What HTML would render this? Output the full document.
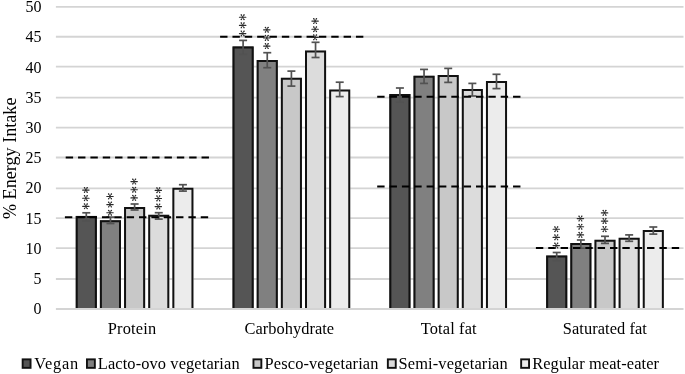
<!DOCTYPE html><html><head><meta charset="utf-8"><style>html,body{margin:0;padding:0;background:#fff;width:685px;height:374px;overflow:hidden}svg{display:block;will-change:transform}text{font-family:"Liberation Serif",serif;fill:#000}</style></head><body>
<svg width="685" height="374" viewBox="0 0 685 374">
<line x1="55.9" x2="683.5" y1="6.95" y2="6.95" stroke="#d4d4d4" stroke-width="1.8"/>
<line x1="55.9" x2="683.5" y1="36.76" y2="36.76" stroke="#d4d4d4" stroke-width="1.8"/>
<line x1="55.9" x2="683.5" y1="66.66" y2="66.66" stroke="#d4d4d4" stroke-width="1.8"/>
<line x1="55.9" x2="683.5" y1="97.57" y2="97.57" stroke="#d4d4d4" stroke-width="1.8"/>
<line x1="55.9" x2="683.5" y1="127.57" y2="127.57" stroke="#d4d4d4" stroke-width="1.8"/>
<line x1="55.9" x2="683.5" y1="157.5" y2="157.5" stroke="#d4d4d4" stroke-width="1.8"/>
<line x1="55.9" x2="683.5" y1="188.3" y2="188.3" stroke="#d4d4d4" stroke-width="1.8"/>
<line x1="55.9" x2="683.5" y1="218.2" y2="218.2" stroke="#d4d4d4" stroke-width="1.8"/>
<line x1="55.9" x2="683.5" y1="248.1" y2="248.1" stroke="#d4d4d4" stroke-width="1.8"/>
<line x1="55.9" x2="683.5" y1="279.0" y2="279.0" stroke="#d4d4d4" stroke-width="1.8"/>
<line x1="55.9" x2="683.5" y1="309.0" y2="309.0" stroke="#d4d4d4" stroke-width="1.8"/>
<text x="41.5" y="12.20" font-size="16" text-anchor="end">50</text>
<text x="41.5" y="42.40" font-size="16" text-anchor="end">45</text>
<text x="41.5" y="72.60" font-size="16" text-anchor="end">40</text>
<text x="41.5" y="102.80" font-size="16" text-anchor="end">35</text>
<text x="41.5" y="133.00" font-size="16" text-anchor="end">30</text>
<text x="41.5" y="163.20" font-size="16" text-anchor="end">25</text>
<text x="41.5" y="193.40" font-size="16" text-anchor="end">20</text>
<text x="41.5" y="223.60" font-size="16" text-anchor="end">15</text>
<text x="41.5" y="253.80" font-size="16" text-anchor="end">10</text>
<text x="41.5" y="284.00" font-size="16" text-anchor="end">5</text>
<text x="41.5" y="314.20" font-size="16" text-anchor="end">0</text>
<rect x="75.75" y="215.90" width="21.10" height="92.10" fill="#555555"/>
<path d="M76.75,308.00 V216.90 H95.85 V308.00" fill="none" stroke="#111" stroke-width="2.0"/>
<rect x="99.90" y="220.20" width="21.10" height="87.80" fill="#808080"/>
<path d="M100.90,308.00 V221.20 H120.00 V308.00" fill="none" stroke="#111" stroke-width="2.0"/>
<rect x="124.05" y="207.00" width="21.10" height="101.00" fill="#c8c8c8"/>
<path d="M125.05,308.00 V208.00 H144.15 V308.00" fill="none" stroke="#111" stroke-width="2.0"/>
<rect x="148.20" y="214.80" width="21.10" height="93.20" fill="#dcdcdc"/>
<path d="M149.20,308.00 V215.80 H168.30 V308.00" fill="none" stroke="#111" stroke-width="2.0"/>
<rect x="172.35" y="187.80" width="21.10" height="120.20" fill="#ececec"/>
<path d="M173.35,308.00 V188.80 H192.45 V308.00" fill="none" stroke="#111" stroke-width="2.0"/>
<rect x="232.55" y="46.40" width="21.10" height="261.60" fill="#555555"/>
<path d="M233.55,308.00 V47.40 H252.65 V308.00" fill="none" stroke="#111" stroke-width="2.0"/>
<rect x="256.70" y="60.00" width="21.10" height="248.00" fill="#808080"/>
<path d="M257.70,308.00 V61.00 H276.80 V308.00" fill="none" stroke="#111" stroke-width="2.0"/>
<rect x="280.85" y="77.80" width="21.10" height="230.20" fill="#c8c8c8"/>
<path d="M281.85,308.00 V78.80 H300.95 V308.00" fill="none" stroke="#111" stroke-width="2.0"/>
<rect x="305.00" y="50.40" width="21.10" height="257.60" fill="#dcdcdc"/>
<path d="M306.00,308.00 V51.40 H325.10 V308.00" fill="none" stroke="#111" stroke-width="2.0"/>
<rect x="329.15" y="89.40" width="21.10" height="218.60" fill="#ececec"/>
<path d="M330.15,308.00 V90.40 H349.25 V308.00" fill="none" stroke="#111" stroke-width="2.0"/>
<rect x="389.35" y="94.10" width="21.10" height="213.90" fill="#555555"/>
<path d="M390.35,308.00 V95.10 H409.45 V308.00" fill="none" stroke="#111" stroke-width="2.0"/>
<rect x="413.50" y="75.80" width="21.10" height="232.20" fill="#808080"/>
<path d="M414.50,308.00 V76.80 H433.60 V308.00" fill="none" stroke="#111" stroke-width="2.0"/>
<rect x="437.65" y="75.00" width="21.10" height="233.00" fill="#c8c8c8"/>
<path d="M438.65,308.00 V76.00 H457.75 V308.00" fill="none" stroke="#111" stroke-width="2.0"/>
<rect x="461.80" y="89.00" width="21.10" height="219.00" fill="#dcdcdc"/>
<path d="M462.80,308.00 V90.00 H481.90 V308.00" fill="none" stroke="#111" stroke-width="2.0"/>
<rect x="485.95" y="81.10" width="21.10" height="226.90" fill="#ececec"/>
<path d="M486.95,308.00 V82.10 H506.05 V308.00" fill="none" stroke="#111" stroke-width="2.0"/>
<rect x="546.15" y="255.60" width="21.10" height="52.40" fill="#555555"/>
<path d="M547.15,308.00 V256.60 H566.25 V308.00" fill="none" stroke="#111" stroke-width="2.0"/>
<rect x="570.30" y="243.10" width="21.10" height="64.90" fill="#808080"/>
<path d="M571.30,308.00 V244.10 H590.40 V308.00" fill="none" stroke="#111" stroke-width="2.0"/>
<rect x="594.45" y="239.80" width="21.10" height="68.20" fill="#c8c8c8"/>
<path d="M595.45,308.00 V240.80 H614.55 V308.00" fill="none" stroke="#111" stroke-width="2.0"/>
<rect x="618.60" y="237.80" width="21.10" height="70.20" fill="#dcdcdc"/>
<path d="M619.60,308.00 V238.80 H638.70 V308.00" fill="none" stroke="#111" stroke-width="2.0"/>
<rect x="642.75" y="230.00" width="21.10" height="78.00" fill="#ececec"/>
<path d="M643.75,308.00 V231.00 H662.85 V308.00" fill="none" stroke="#111" stroke-width="2.0"/>
<g stroke="#525252" stroke-width="1.7"><line x1="86.30" x2="86.30" y1="212.80" y2="221.00"/><line x1="82.30" x2="90.30" y1="212.80" y2="212.80"/><line x1="82.30" x2="90.30" y1="221.00" y2="221.00"/></g>
<g stroke="#525252" stroke-width="1.7"><line x1="110.45" x2="110.45" y1="217.10" y2="223.50"/><line x1="106.45" x2="114.45" y1="217.10" y2="217.10"/><line x1="106.45" x2="114.45" y1="223.50" y2="223.50"/></g>
<g stroke="#525252" stroke-width="1.7"><line x1="134.60" x2="134.60" y1="204.00" y2="210.00"/><line x1="130.60" x2="138.60" y1="204.00" y2="204.00"/><line x1="130.60" x2="138.60" y1="210.00" y2="210.00"/></g>
<g stroke="#525252" stroke-width="1.7"><line x1="158.75" x2="158.75" y1="212.70" y2="219.10"/><line x1="154.75" x2="162.75" y1="212.70" y2="212.70"/><line x1="154.75" x2="162.75" y1="219.10" y2="219.10"/></g>
<g stroke="#525252" stroke-width="1.7"><line x1="182.90" x2="182.90" y1="184.70" y2="191.10"/><line x1="178.90" x2="186.90" y1="184.70" y2="184.70"/><line x1="178.90" x2="186.90" y1="191.10" y2="191.10"/></g>
<g stroke="#525252" stroke-width="1.7"><line x1="243.10" x2="243.10" y1="40.40" y2="54.40"/><line x1="239.10" x2="247.10" y1="40.40" y2="40.40"/><line x1="239.10" x2="247.10" y1="54.40" y2="54.40"/></g>
<g stroke="#525252" stroke-width="1.7"><line x1="267.25" x2="267.25" y1="52.70" y2="67.70"/><line x1="263.25" x2="271.25" y1="52.70" y2="52.70"/><line x1="263.25" x2="271.25" y1="67.70" y2="67.70"/></g>
<g stroke="#525252" stroke-width="1.7"><line x1="291.40" x2="291.40" y1="71.10" y2="86.10"/><line x1="287.40" x2="295.40" y1="71.10" y2="71.10"/><line x1="287.40" x2="295.40" y1="86.10" y2="86.10"/></g>
<g stroke="#525252" stroke-width="1.7"><line x1="315.55" x2="315.55" y1="42.30" y2="57.50"/><line x1="311.55" x2="319.55" y1="42.30" y2="42.30"/><line x1="311.55" x2="319.55" y1="57.50" y2="57.50"/></g>
<g stroke="#525252" stroke-width="1.7"><line x1="339.70" x2="339.70" y1="82.20" y2="96.60"/><line x1="335.70" x2="343.70" y1="82.20" y2="82.20"/><line x1="335.70" x2="343.70" y1="96.60" y2="96.60"/></g>
<g stroke="#525252" stroke-width="1.7"><line x1="399.90" x2="399.90" y1="88.00" y2="102.20"/><line x1="395.90" x2="403.90" y1="88.00" y2="88.00"/><line x1="395.90" x2="403.90" y1="102.20" y2="102.20"/></g>
<g stroke="#525252" stroke-width="1.7"><line x1="424.05" x2="424.05" y1="69.40" y2="83.40"/><line x1="420.05" x2="428.05" y1="69.40" y2="69.40"/><line x1="420.05" x2="428.05" y1="83.40" y2="83.40"/></g>
<g stroke="#525252" stroke-width="1.7"><line x1="448.20" x2="448.20" y1="68.40" y2="82.40"/><line x1="444.20" x2="452.20" y1="68.40" y2="68.40"/><line x1="444.20" x2="452.20" y1="82.40" y2="82.40"/></g>
<g stroke="#525252" stroke-width="1.7"><line x1="472.35" x2="472.35" y1="83.40" y2="96.00"/><line x1="468.35" x2="476.35" y1="83.40" y2="83.40"/><line x1="468.35" x2="476.35" y1="96.00" y2="96.00"/></g>
<g stroke="#525252" stroke-width="1.7"><line x1="496.50" x2="496.50" y1="74.30" y2="88.60"/><line x1="492.50" x2="500.50" y1="74.30" y2="74.30"/><line x1="492.50" x2="500.50" y1="88.60" y2="88.60"/></g>
<g stroke="#525252" stroke-width="1.7"><line x1="556.70" x2="556.70" y1="252.50" y2="260.70"/><line x1="552.70" x2="560.70" y1="252.50" y2="252.50"/><line x1="552.70" x2="560.70" y1="260.70" y2="260.70"/></g>
<g stroke="#525252" stroke-width="1.7"><line x1="580.85" x2="580.85" y1="240.00" y2="248.20"/><line x1="576.85" x2="584.85" y1="240.00" y2="240.00"/><line x1="576.85" x2="584.85" y1="248.20" y2="248.20"/></g>
<g stroke="#525252" stroke-width="1.7"><line x1="605.00" x2="605.00" y1="236.30" y2="243.40"/><line x1="601.00" x2="609.00" y1="236.30" y2="236.30"/><line x1="601.00" x2="609.00" y1="243.40" y2="243.40"/></g>
<g stroke="#525252" stroke-width="1.7"><line x1="629.15" x2="629.15" y1="234.90" y2="241.30"/><line x1="625.15" x2="633.15" y1="234.90" y2="234.90"/><line x1="625.15" x2="633.15" y1="241.30" y2="241.30"/></g>
<g stroke="#525252" stroke-width="1.7"><line x1="653.30" x2="653.30" y1="227.00" y2="234.10"/><line x1="649.30" x2="657.30" y1="227.00" y2="227.00"/><line x1="649.30" x2="657.30" y1="234.10" y2="234.10"/></g>
<line x1="65.7" x2="209.5" y1="157.5" y2="157.5" stroke="#000" stroke-width="2" stroke-dasharray="7.4 4.95"/>
<line x1="64.9" x2="209.5" y1="217.3" y2="217.3" stroke="#000" stroke-width="2" stroke-dasharray="7.4 4.95"/>
<line x1="220.1" x2="364.0" y1="36.7" y2="36.7" stroke="#000" stroke-width="2" stroke-dasharray="7.4 4.95"/>
<line x1="377.2" x2="521.0" y1="96.7" y2="96.7" stroke="#000" stroke-width="2" stroke-dasharray="7.4 4.95"/>
<line x1="377.2" x2="521.0" y1="186.5" y2="186.5" stroke="#000" stroke-width="2" stroke-dasharray="7.4 4.95"/>
<line x1="535.9" x2="680.0" y1="248.1" y2="248.1" stroke="#000" stroke-width="2" stroke-dasharray="7.4 4.95"/>
<g transform="translate(85.85,190.05)" stroke="#2a2a2a" stroke-linecap="round" fill="none"><path d="M-3.2,0H3.2" stroke-width="1.15"/><path d="M0,0L-1.25,-2.4M0,0L1.25,-2.4M0,0L-1.25,2.3M0,0L1.25,2.3" stroke-width="0.8"/><circle cx="-1.35" cy="-2.35" r="0.75" fill="#2a2a2a" stroke="none"/><circle cx="1.35" cy="-2.35" r="0.75" fill="#2a2a2a" stroke="none"/><circle cx="-1.35" cy="2.25" r="0.7" fill="#2a2a2a" stroke="none"/><circle cx="1.35" cy="2.25" r="0.7" fill="#2a2a2a" stroke="none"/></g>
<g transform="translate(85.85,198.20)" stroke="#2a2a2a" stroke-linecap="round" fill="none"><path d="M-3.2,0H3.2" stroke-width="1.15"/><path d="M0,0L-1.25,-2.4M0,0L1.25,-2.4M0,0L-1.25,2.3M0,0L1.25,2.3" stroke-width="0.8"/><circle cx="-1.35" cy="-2.35" r="0.75" fill="#2a2a2a" stroke="none"/><circle cx="1.35" cy="-2.35" r="0.75" fill="#2a2a2a" stroke="none"/><circle cx="-1.35" cy="2.25" r="0.7" fill="#2a2a2a" stroke="none"/><circle cx="1.35" cy="2.25" r="0.7" fill="#2a2a2a" stroke="none"/></g>
<g transform="translate(85.85,206.35)" stroke="#2a2a2a" stroke-linecap="round" fill="none"><path d="M-3.2,0H3.2" stroke-width="1.15"/><path d="M0,0L-1.25,-2.4M0,0L1.25,-2.4M0,0L-1.25,2.3M0,0L1.25,2.3" stroke-width="0.8"/><circle cx="-1.35" cy="-2.35" r="0.75" fill="#2a2a2a" stroke="none"/><circle cx="1.35" cy="-2.35" r="0.75" fill="#2a2a2a" stroke="none"/><circle cx="-1.35" cy="2.25" r="0.7" fill="#2a2a2a" stroke="none"/><circle cx="1.35" cy="2.25" r="0.7" fill="#2a2a2a" stroke="none"/></g>
<g transform="translate(110.00,196.45)" stroke="#2a2a2a" stroke-linecap="round" fill="none"><path d="M-3.2,0H3.2" stroke-width="1.15"/><path d="M0,0L-1.25,-2.4M0,0L1.25,-2.4M0,0L-1.25,2.3M0,0L1.25,2.3" stroke-width="0.8"/><circle cx="-1.35" cy="-2.35" r="0.75" fill="#2a2a2a" stroke="none"/><circle cx="1.35" cy="-2.35" r="0.75" fill="#2a2a2a" stroke="none"/><circle cx="-1.35" cy="2.25" r="0.7" fill="#2a2a2a" stroke="none"/><circle cx="1.35" cy="2.25" r="0.7" fill="#2a2a2a" stroke="none"/></g>
<g transform="translate(110.00,204.60)" stroke="#2a2a2a" stroke-linecap="round" fill="none"><path d="M-3.2,0H3.2" stroke-width="1.15"/><path d="M0,0L-1.25,-2.4M0,0L1.25,-2.4M0,0L-1.25,2.3M0,0L1.25,2.3" stroke-width="0.8"/><circle cx="-1.35" cy="-2.35" r="0.75" fill="#2a2a2a" stroke="none"/><circle cx="1.35" cy="-2.35" r="0.75" fill="#2a2a2a" stroke="none"/><circle cx="-1.35" cy="2.25" r="0.7" fill="#2a2a2a" stroke="none"/><circle cx="1.35" cy="2.25" r="0.7" fill="#2a2a2a" stroke="none"/></g>
<g transform="translate(110.00,212.75)" stroke="#2a2a2a" stroke-linecap="round" fill="none"><path d="M-3.2,0H3.2" stroke-width="1.15"/><path d="M0,0L-1.25,-2.4M0,0L1.25,-2.4M0,0L-1.25,2.3M0,0L1.25,2.3" stroke-width="0.8"/><circle cx="-1.35" cy="-2.35" r="0.75" fill="#2a2a2a" stroke="none"/><circle cx="1.35" cy="-2.35" r="0.75" fill="#2a2a2a" stroke="none"/><circle cx="-1.35" cy="2.25" r="0.7" fill="#2a2a2a" stroke="none"/><circle cx="1.35" cy="2.25" r="0.7" fill="#2a2a2a" stroke="none"/></g>
<g transform="translate(134.15,181.60)" stroke="#2a2a2a" stroke-linecap="round" fill="none"><path d="M-3.2,0H3.2" stroke-width="1.15"/><path d="M0,0L-1.25,-2.4M0,0L1.25,-2.4M0,0L-1.25,2.3M0,0L1.25,2.3" stroke-width="0.8"/><circle cx="-1.35" cy="-2.35" r="0.75" fill="#2a2a2a" stroke="none"/><circle cx="1.35" cy="-2.35" r="0.75" fill="#2a2a2a" stroke="none"/><circle cx="-1.35" cy="2.25" r="0.7" fill="#2a2a2a" stroke="none"/><circle cx="1.35" cy="2.25" r="0.7" fill="#2a2a2a" stroke="none"/></g>
<g transform="translate(134.15,189.75)" stroke="#2a2a2a" stroke-linecap="round" fill="none"><path d="M-3.2,0H3.2" stroke-width="1.15"/><path d="M0,0L-1.25,-2.4M0,0L1.25,-2.4M0,0L-1.25,2.3M0,0L1.25,2.3" stroke-width="0.8"/><circle cx="-1.35" cy="-2.35" r="0.75" fill="#2a2a2a" stroke="none"/><circle cx="1.35" cy="-2.35" r="0.75" fill="#2a2a2a" stroke="none"/><circle cx="-1.35" cy="2.25" r="0.7" fill="#2a2a2a" stroke="none"/><circle cx="1.35" cy="2.25" r="0.7" fill="#2a2a2a" stroke="none"/></g>
<g transform="translate(134.15,197.90)" stroke="#2a2a2a" stroke-linecap="round" fill="none"><path d="M-3.2,0H3.2" stroke-width="1.15"/><path d="M0,0L-1.25,-2.4M0,0L1.25,-2.4M0,0L-1.25,2.3M0,0L1.25,2.3" stroke-width="0.8"/><circle cx="-1.35" cy="-2.35" r="0.75" fill="#2a2a2a" stroke="none"/><circle cx="1.35" cy="-2.35" r="0.75" fill="#2a2a2a" stroke="none"/><circle cx="-1.35" cy="2.25" r="0.7" fill="#2a2a2a" stroke="none"/><circle cx="1.35" cy="2.25" r="0.7" fill="#2a2a2a" stroke="none"/></g>
<g transform="translate(158.30,190.30)" stroke="#2a2a2a" stroke-linecap="round" fill="none"><path d="M-3.2,0H3.2" stroke-width="1.15"/><path d="M0,0L-1.25,-2.4M0,0L1.25,-2.4M0,0L-1.25,2.3M0,0L1.25,2.3" stroke-width="0.8"/><circle cx="-1.35" cy="-2.35" r="0.75" fill="#2a2a2a" stroke="none"/><circle cx="1.35" cy="-2.35" r="0.75" fill="#2a2a2a" stroke="none"/><circle cx="-1.35" cy="2.25" r="0.7" fill="#2a2a2a" stroke="none"/><circle cx="1.35" cy="2.25" r="0.7" fill="#2a2a2a" stroke="none"/></g>
<g transform="translate(158.30,198.45)" stroke="#2a2a2a" stroke-linecap="round" fill="none"><path d="M-3.2,0H3.2" stroke-width="1.15"/><path d="M0,0L-1.25,-2.4M0,0L1.25,-2.4M0,0L-1.25,2.3M0,0L1.25,2.3" stroke-width="0.8"/><circle cx="-1.35" cy="-2.35" r="0.75" fill="#2a2a2a" stroke="none"/><circle cx="1.35" cy="-2.35" r="0.75" fill="#2a2a2a" stroke="none"/><circle cx="-1.35" cy="2.25" r="0.7" fill="#2a2a2a" stroke="none"/><circle cx="1.35" cy="2.25" r="0.7" fill="#2a2a2a" stroke="none"/></g>
<g transform="translate(158.30,206.60)" stroke="#2a2a2a" stroke-linecap="round" fill="none"><path d="M-3.2,0H3.2" stroke-width="1.15"/><path d="M0,0L-1.25,-2.4M0,0L1.25,-2.4M0,0L-1.25,2.3M0,0L1.25,2.3" stroke-width="0.8"/><circle cx="-1.35" cy="-2.35" r="0.75" fill="#2a2a2a" stroke="none"/><circle cx="1.35" cy="-2.35" r="0.75" fill="#2a2a2a" stroke="none"/><circle cx="-1.35" cy="2.25" r="0.7" fill="#2a2a2a" stroke="none"/><circle cx="1.35" cy="2.25" r="0.7" fill="#2a2a2a" stroke="none"/></g>
<g transform="translate(242.65,17.25)" stroke="#2a2a2a" stroke-linecap="round" fill="none"><path d="M-3.2,0H3.2" stroke-width="1.15"/><path d="M0,0L-1.25,-2.4M0,0L1.25,-2.4M0,0L-1.25,2.3M0,0L1.25,2.3" stroke-width="0.8"/><circle cx="-1.35" cy="-2.35" r="0.75" fill="#2a2a2a" stroke="none"/><circle cx="1.35" cy="-2.35" r="0.75" fill="#2a2a2a" stroke="none"/><circle cx="-1.35" cy="2.25" r="0.7" fill="#2a2a2a" stroke="none"/><circle cx="1.35" cy="2.25" r="0.7" fill="#2a2a2a" stroke="none"/></g>
<g transform="translate(242.65,25.40)" stroke="#2a2a2a" stroke-linecap="round" fill="none"><path d="M-3.2,0H3.2" stroke-width="1.15"/><path d="M0,0L-1.25,-2.4M0,0L1.25,-2.4M0,0L-1.25,2.3M0,0L1.25,2.3" stroke-width="0.8"/><circle cx="-1.35" cy="-2.35" r="0.75" fill="#2a2a2a" stroke="none"/><circle cx="1.35" cy="-2.35" r="0.75" fill="#2a2a2a" stroke="none"/><circle cx="-1.35" cy="2.25" r="0.7" fill="#2a2a2a" stroke="none"/><circle cx="1.35" cy="2.25" r="0.7" fill="#2a2a2a" stroke="none"/></g>
<g transform="translate(242.65,33.55)" stroke="#2a2a2a" stroke-linecap="round" fill="none"><path d="M-3.2,0H3.2" stroke-width="1.15"/><path d="M0,0L-1.25,-2.4M0,0L1.25,-2.4M0,0L-1.25,2.3M0,0L1.25,2.3" stroke-width="0.8"/><circle cx="-1.35" cy="-2.35" r="0.75" fill="#2a2a2a" stroke="none"/><circle cx="1.35" cy="-2.35" r="0.75" fill="#2a2a2a" stroke="none"/><circle cx="-1.35" cy="2.25" r="0.7" fill="#2a2a2a" stroke="none"/><circle cx="1.35" cy="2.25" r="0.7" fill="#2a2a2a" stroke="none"/></g>
<g transform="translate(266.80,29.80)" stroke="#2a2a2a" stroke-linecap="round" fill="none"><path d="M-3.2,0H3.2" stroke-width="1.15"/><path d="M0,0L-1.25,-2.4M0,0L1.25,-2.4M0,0L-1.25,2.3M0,0L1.25,2.3" stroke-width="0.8"/><circle cx="-1.35" cy="-2.35" r="0.75" fill="#2a2a2a" stroke="none"/><circle cx="1.35" cy="-2.35" r="0.75" fill="#2a2a2a" stroke="none"/><circle cx="-1.35" cy="2.25" r="0.7" fill="#2a2a2a" stroke="none"/><circle cx="1.35" cy="2.25" r="0.7" fill="#2a2a2a" stroke="none"/></g>
<g transform="translate(266.80,37.95)" stroke="#2a2a2a" stroke-linecap="round" fill="none"><path d="M-3.2,0H3.2" stroke-width="1.15"/><path d="M0,0L-1.25,-2.4M0,0L1.25,-2.4M0,0L-1.25,2.3M0,0L1.25,2.3" stroke-width="0.8"/><circle cx="-1.35" cy="-2.35" r="0.75" fill="#2a2a2a" stroke="none"/><circle cx="1.35" cy="-2.35" r="0.75" fill="#2a2a2a" stroke="none"/><circle cx="-1.35" cy="2.25" r="0.7" fill="#2a2a2a" stroke="none"/><circle cx="1.35" cy="2.25" r="0.7" fill="#2a2a2a" stroke="none"/></g>
<g transform="translate(266.80,46.10)" stroke="#2a2a2a" stroke-linecap="round" fill="none"><path d="M-3.2,0H3.2" stroke-width="1.15"/><path d="M0,0L-1.25,-2.4M0,0L1.25,-2.4M0,0L-1.25,2.3M0,0L1.25,2.3" stroke-width="0.8"/><circle cx="-1.35" cy="-2.35" r="0.75" fill="#2a2a2a" stroke="none"/><circle cx="1.35" cy="-2.35" r="0.75" fill="#2a2a2a" stroke="none"/><circle cx="-1.35" cy="2.25" r="0.7" fill="#2a2a2a" stroke="none"/><circle cx="1.35" cy="2.25" r="0.7" fill="#2a2a2a" stroke="none"/></g>
<g transform="translate(315.10,21.10)" stroke="#2a2a2a" stroke-linecap="round" fill="none"><path d="M-3.2,0H3.2" stroke-width="1.15"/><path d="M0,0L-1.25,-2.4M0,0L1.25,-2.4M0,0L-1.25,2.3M0,0L1.25,2.3" stroke-width="0.8"/><circle cx="-1.35" cy="-2.35" r="0.75" fill="#2a2a2a" stroke="none"/><circle cx="1.35" cy="-2.35" r="0.75" fill="#2a2a2a" stroke="none"/><circle cx="-1.35" cy="2.25" r="0.7" fill="#2a2a2a" stroke="none"/><circle cx="1.35" cy="2.25" r="0.7" fill="#2a2a2a" stroke="none"/></g>
<g transform="translate(315.10,29.25)" stroke="#2a2a2a" stroke-linecap="round" fill="none"><path d="M-3.2,0H3.2" stroke-width="1.15"/><path d="M0,0L-1.25,-2.4M0,0L1.25,-2.4M0,0L-1.25,2.3M0,0L1.25,2.3" stroke-width="0.8"/><circle cx="-1.35" cy="-2.35" r="0.75" fill="#2a2a2a" stroke="none"/><circle cx="1.35" cy="-2.35" r="0.75" fill="#2a2a2a" stroke="none"/><circle cx="-1.35" cy="2.25" r="0.7" fill="#2a2a2a" stroke="none"/><circle cx="1.35" cy="2.25" r="0.7" fill="#2a2a2a" stroke="none"/></g>
<g transform="translate(315.10,37.40)" stroke="#2a2a2a" stroke-linecap="round" fill="none"><path d="M-3.2,0H3.2" stroke-width="1.15"/><path d="M0,0L-1.25,-2.4M0,0L1.25,-2.4M0,0L-1.25,2.3M0,0L1.25,2.3" stroke-width="0.8"/><circle cx="-1.35" cy="-2.35" r="0.75" fill="#2a2a2a" stroke="none"/><circle cx="1.35" cy="-2.35" r="0.75" fill="#2a2a2a" stroke="none"/><circle cx="-1.35" cy="2.25" r="0.7" fill="#2a2a2a" stroke="none"/><circle cx="1.35" cy="2.25" r="0.7" fill="#2a2a2a" stroke="none"/></g>
<g transform="translate(556.25,229.25)" stroke="#2a2a2a" stroke-linecap="round" fill="none"><path d="M-3.2,0H3.2" stroke-width="1.15"/><path d="M0,0L-1.25,-2.4M0,0L1.25,-2.4M0,0L-1.25,2.3M0,0L1.25,2.3" stroke-width="0.8"/><circle cx="-1.35" cy="-2.35" r="0.75" fill="#2a2a2a" stroke="none"/><circle cx="1.35" cy="-2.35" r="0.75" fill="#2a2a2a" stroke="none"/><circle cx="-1.35" cy="2.25" r="0.7" fill="#2a2a2a" stroke="none"/><circle cx="1.35" cy="2.25" r="0.7" fill="#2a2a2a" stroke="none"/></g>
<g transform="translate(556.25,237.40)" stroke="#2a2a2a" stroke-linecap="round" fill="none"><path d="M-3.2,0H3.2" stroke-width="1.15"/><path d="M0,0L-1.25,-2.4M0,0L1.25,-2.4M0,0L-1.25,2.3M0,0L1.25,2.3" stroke-width="0.8"/><circle cx="-1.35" cy="-2.35" r="0.75" fill="#2a2a2a" stroke="none"/><circle cx="1.35" cy="-2.35" r="0.75" fill="#2a2a2a" stroke="none"/><circle cx="-1.35" cy="2.25" r="0.7" fill="#2a2a2a" stroke="none"/><circle cx="1.35" cy="2.25" r="0.7" fill="#2a2a2a" stroke="none"/></g>
<g transform="translate(556.25,245.55)" stroke="#2a2a2a" stroke-linecap="round" fill="none"><path d="M-3.2,0H3.2" stroke-width="1.15"/><path d="M0,0L-1.25,-2.4M0,0L1.25,-2.4M0,0L-1.25,2.3M0,0L1.25,2.3" stroke-width="0.8"/><circle cx="-1.35" cy="-2.35" r="0.75" fill="#2a2a2a" stroke="none"/><circle cx="1.35" cy="-2.35" r="0.75" fill="#2a2a2a" stroke="none"/><circle cx="-1.35" cy="2.25" r="0.7" fill="#2a2a2a" stroke="none"/><circle cx="1.35" cy="2.25" r="0.7" fill="#2a2a2a" stroke="none"/></g>
<g transform="translate(580.40,218.60)" stroke="#2a2a2a" stroke-linecap="round" fill="none"><path d="M-3.2,0H3.2" stroke-width="1.15"/><path d="M0,0L-1.25,-2.4M0,0L1.25,-2.4M0,0L-1.25,2.3M0,0L1.25,2.3" stroke-width="0.8"/><circle cx="-1.35" cy="-2.35" r="0.75" fill="#2a2a2a" stroke="none"/><circle cx="1.35" cy="-2.35" r="0.75" fill="#2a2a2a" stroke="none"/><circle cx="-1.35" cy="2.25" r="0.7" fill="#2a2a2a" stroke="none"/><circle cx="1.35" cy="2.25" r="0.7" fill="#2a2a2a" stroke="none"/></g>
<g transform="translate(580.40,226.75)" stroke="#2a2a2a" stroke-linecap="round" fill="none"><path d="M-3.2,0H3.2" stroke-width="1.15"/><path d="M0,0L-1.25,-2.4M0,0L1.25,-2.4M0,0L-1.25,2.3M0,0L1.25,2.3" stroke-width="0.8"/><circle cx="-1.35" cy="-2.35" r="0.75" fill="#2a2a2a" stroke="none"/><circle cx="1.35" cy="-2.35" r="0.75" fill="#2a2a2a" stroke="none"/><circle cx="-1.35" cy="2.25" r="0.7" fill="#2a2a2a" stroke="none"/><circle cx="1.35" cy="2.25" r="0.7" fill="#2a2a2a" stroke="none"/></g>
<g transform="translate(580.40,234.90)" stroke="#2a2a2a" stroke-linecap="round" fill="none"><path d="M-3.2,0H3.2" stroke-width="1.15"/><path d="M0,0L-1.25,-2.4M0,0L1.25,-2.4M0,0L-1.25,2.3M0,0L1.25,2.3" stroke-width="0.8"/><circle cx="-1.35" cy="-2.35" r="0.75" fill="#2a2a2a" stroke="none"/><circle cx="1.35" cy="-2.35" r="0.75" fill="#2a2a2a" stroke="none"/><circle cx="-1.35" cy="2.25" r="0.7" fill="#2a2a2a" stroke="none"/><circle cx="1.35" cy="2.25" r="0.7" fill="#2a2a2a" stroke="none"/></g>
<g transform="translate(604.55,212.90)" stroke="#2a2a2a" stroke-linecap="round" fill="none"><path d="M-3.2,0H3.2" stroke-width="1.15"/><path d="M0,0L-1.25,-2.4M0,0L1.25,-2.4M0,0L-1.25,2.3M0,0L1.25,2.3" stroke-width="0.8"/><circle cx="-1.35" cy="-2.35" r="0.75" fill="#2a2a2a" stroke="none"/><circle cx="1.35" cy="-2.35" r="0.75" fill="#2a2a2a" stroke="none"/><circle cx="-1.35" cy="2.25" r="0.7" fill="#2a2a2a" stroke="none"/><circle cx="1.35" cy="2.25" r="0.7" fill="#2a2a2a" stroke="none"/></g>
<g transform="translate(604.55,221.05)" stroke="#2a2a2a" stroke-linecap="round" fill="none"><path d="M-3.2,0H3.2" stroke-width="1.15"/><path d="M0,0L-1.25,-2.4M0,0L1.25,-2.4M0,0L-1.25,2.3M0,0L1.25,2.3" stroke-width="0.8"/><circle cx="-1.35" cy="-2.35" r="0.75" fill="#2a2a2a" stroke="none"/><circle cx="1.35" cy="-2.35" r="0.75" fill="#2a2a2a" stroke="none"/><circle cx="-1.35" cy="2.25" r="0.7" fill="#2a2a2a" stroke="none"/><circle cx="1.35" cy="2.25" r="0.7" fill="#2a2a2a" stroke="none"/></g>
<g transform="translate(604.55,229.20)" stroke="#2a2a2a" stroke-linecap="round" fill="none"><path d="M-3.2,0H3.2" stroke-width="1.15"/><path d="M0,0L-1.25,-2.4M0,0L1.25,-2.4M0,0L-1.25,2.3M0,0L1.25,2.3" stroke-width="0.8"/><circle cx="-1.35" cy="-2.35" r="0.75" fill="#2a2a2a" stroke="none"/><circle cx="1.35" cy="-2.35" r="0.75" fill="#2a2a2a" stroke="none"/><circle cx="-1.35" cy="2.25" r="0.7" fill="#2a2a2a" stroke="none"/><circle cx="1.35" cy="2.25" r="0.7" fill="#2a2a2a" stroke="none"/></g>
<text x="107.80" y="333.8" font-size="16.4" textLength="48.37" lengthAdjust="spacing">Protein</text>
<text x="244.60" y="333.8" font-size="16.4" textLength="89.46" lengthAdjust="spacing">Carbohydrate</text>
<text x="420.80" y="333.8" font-size="16.4" textLength="55.86" lengthAdjust="spacing">Total fat</text>
<text x="562.80" y="333.8" font-size="16.4" textLength="84.13" lengthAdjust="spacing">Saturated fat</text>
<text x="34.20" y="368.7" font-size="16.4" textLength="43.98" lengthAdjust="spacing">Vegan</text>
<text x="97.80" y="368.7" font-size="16.4" textLength="141.78" lengthAdjust="spacing">Lacto-ovo vegetarian</text>
<text x="264.60" y="368.7" font-size="16.4" textLength="113.81" lengthAdjust="spacing">Pesco-vegetarian</text>
<text x="398.60" y="368.7" font-size="16.4" textLength="109.06" lengthAdjust="spacing">Semi-vegetarian</text>
<text x="532.20" y="368.7" font-size="16.4" textLength="126.80" lengthAdjust="spacing">Regular meat-eater</text>
<text x="0" y="0" font-size="18.15" text-anchor="middle" transform="translate(16,158.3) rotate(-90)">% Energy Intake</text>
<rect x="22.65" y="359.35" width="7.90" height="8.50" fill="#555555" stroke="#111" stroke-width="1.9"/>
<rect x="86.95" y="359.35" width="7.90" height="8.50" fill="#808080" stroke="#111" stroke-width="1.9"/>
<rect x="253.45" y="359.35" width="7.90" height="8.50" fill="#c8c8c8" stroke="#111" stroke-width="1.9"/>
<rect x="387.85" y="359.35" width="7.90" height="8.50" fill="#dcdcdc" stroke="#111" stroke-width="1.9"/>
<rect x="521.15" y="359.35" width="7.90" height="8.50" fill="#ececec" stroke="#111" stroke-width="1.9"/>
</svg></body></html>
